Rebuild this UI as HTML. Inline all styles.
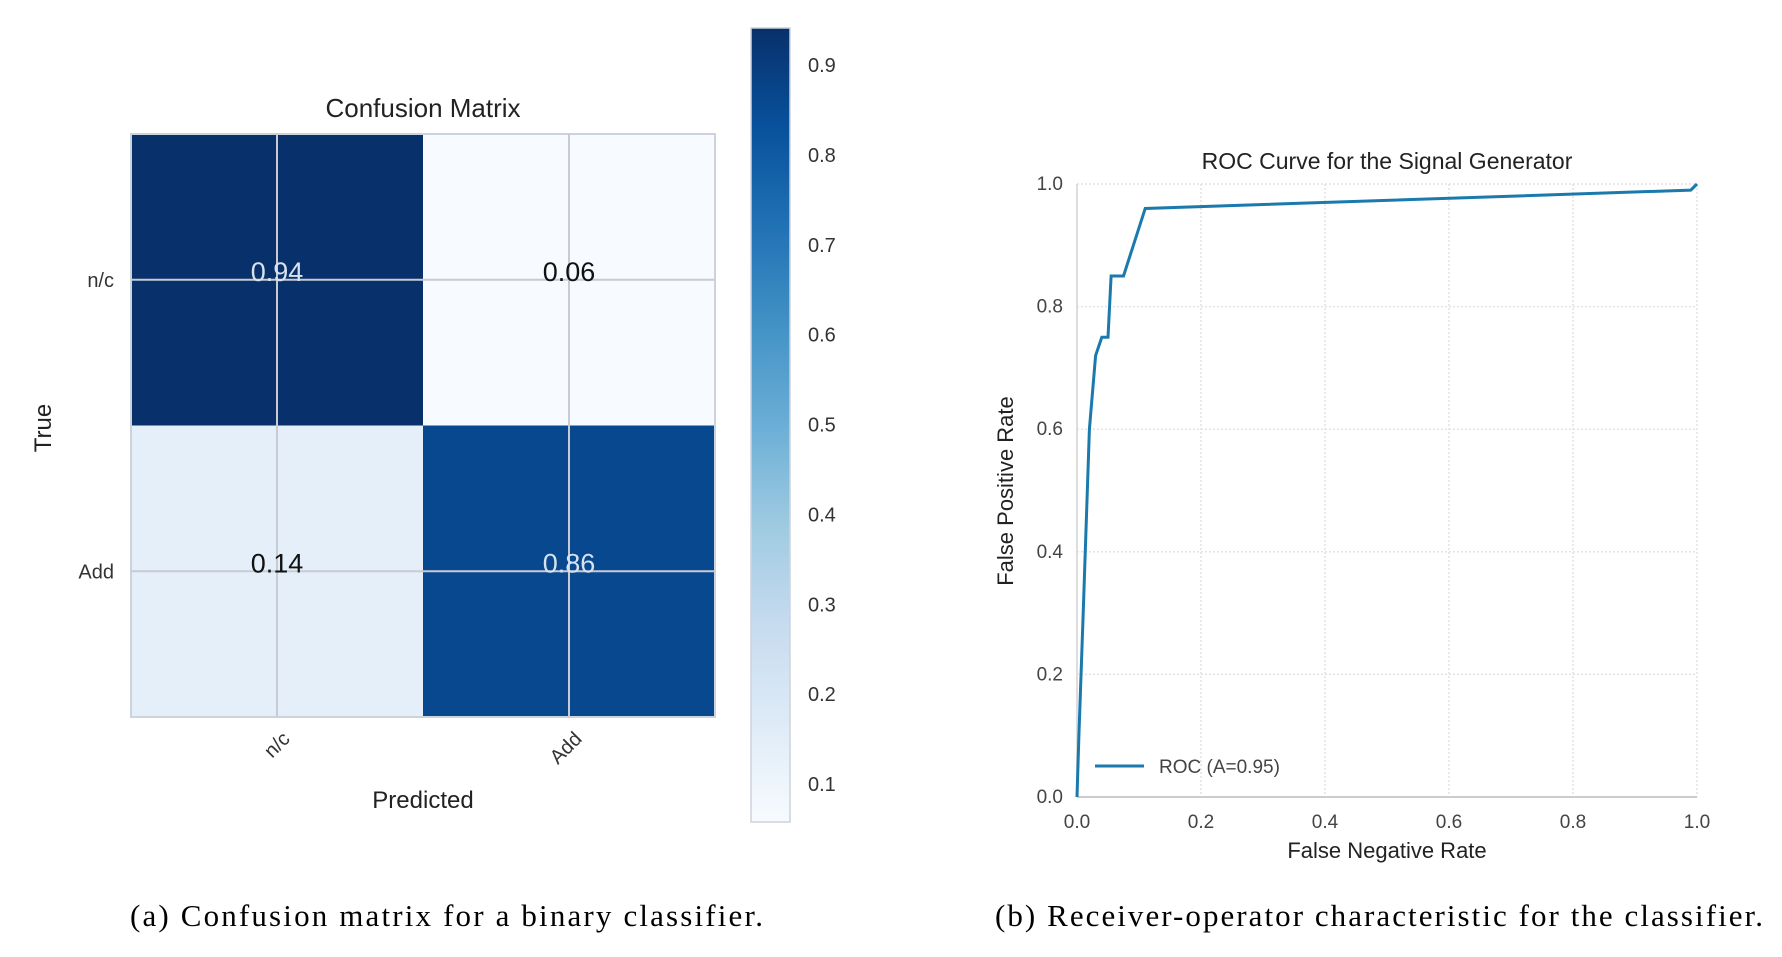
<!DOCTYPE html>
<html><head><meta charset="utf-8"><style>
html,body{margin:0;padding:0;background:#fff;width:1782px;height:957px;overflow:hidden}
svg text{font-family:"Liberation Sans",sans-serif;}
</style></head><body>
<svg width="1782" height="957">
<defs>
<linearGradient id="blues" x1="0" y1="1" x2="0" y2="0">
<stop offset="0" stop-color="#f7fbff"/><stop offset="0.125" stop-color="#deebf7"/>
<stop offset="0.25" stop-color="#c6dbef"/><stop offset="0.375" stop-color="#9ecae1"/>
<stop offset="0.5" stop-color="#6baed6"/><stop offset="0.625" stop-color="#4292c6"/>
<stop offset="0.75" stop-color="#2171b5"/><stop offset="0.875" stop-color="#08519c"/>
<stop offset="1" stop-color="#08306b"/></linearGradient>
</defs>
<g id="cm"></g>
<g id="roc"></g>
<text x="130" y="926" font-size="31" textLength="633" lengthAdjust="spacing" style="font-family:'Liberation Serif',serif">(a) Confusion matrix for a binary classifier.</text>
<text x="995" y="926" font-size="31" textLength="768" lengthAdjust="spacing" style="font-family:'Liberation Serif',serif">(b) Receiver-operator characteristic for the classifier.</text>
</svg>
<script>
const cmLabels=["n/c","Add"];
const cmValues=[[0.94,0.06],[0.14,0.86]];
const cbTicks=[0.1,0.2,0.3,0.4,0.5,0.6,0.7,0.8,0.9];
const rocX=[0,0.003,0.01,0.02,0.03,0.04,0.05,0.055,0.06,0.075,0.11,0.99,1];
const rocY=[0,0.1,0.3,0.6,0.72,0.75,0.75,0.85,0.85,0.85,0.96,0.99,1];
const rocTicks=[0,0.2,0.4,0.6,0.8,1.0];
const NS="http://www.w3.org/2000/svg";
function mk(p,t,a,txt){const e=document.createElementNS(NS,t);for(const k in a)e.setAttribute(k,a[k]);if(txt!==undefined)e.textContent=txt;p.appendChild(e);return e;}
const stops=[[0,[247,251,255]],[0.125,[222,235,247]],[0.25,[198,219,239]],[0.375,[158,202,225]],[0.5,[107,174,214]],[0.625,[66,146,198]],[0.75,[33,113,181]],[0.875,[8,81,156]],[1,[8,48,107]]];
const vmin=0.06,vmax=0.94;
function blues(v){let t=(v-vmin)/(vmax-vmin);t=Math.max(0,Math.min(1,t));for(let i=1;i<stops.length;i++){if(t<=stops[i][0]){const a=stops[i-1],b=stops[i];const f=(t-a[0])/(b[0]-a[0]);return 'rgb('+a[1].map((c,j)=>Math.round(c+(b[1][j]-c)*f)).join(',')+')';}}return 'rgb(8,48,107)';}
const cm=document.getElementById('cm');
const L=131,T=134,W=584,H=583,n=cmLabels.length,cw=W/n,ch=H/n;
const cx=i=>L+cw*(i+0.5), cy=i=>T+ch*(i+0.5);
for(let r=0;r<n;r++)for(let c=0;c<n;c++){
 const v=cmValues[r][c];
 const e=mk(cm,'rect',{x:L+c*cw,y:T+r*ch,width:cw,height:ch,fill:blues(v)});
 
 
}
mk(cm,'rect',{x:L,y:T,width:W,height:H,fill:'none',stroke:'#ccd3dc','stroke-width':2});
for(let i=0;i<n;i++){
 mk(cm,'line',{x1:cx(i),x2:cx(i),y1:T,y2:T+H,stroke:'#c8ccd2','stroke-width':2});
 mk(cm,'line',{x1:L,x2:L+W,y1:cy(i),y2:cy(i),stroke:'#c8ccd2','stroke-width':2});
}
for(let r=0;r<n;r++)for(let c=0;c<n;c++){
 const v=cmValues[r][c];
 const e=mk(cm,'text',{x:cx(c),y:cy(r)+1,'font-size':27,'text-anchor':'middle',fill:v>0.5?'#d8e2ee':'#111'},v.toFixed(2));
 
 
}
for(let i=0;i<n;i++){
 const e=mk(cm,'text',{x:114,y:cy(i)+7,'font-size':20,'text-anchor':'end',fill:'#333'},cmLabels[i]);
 
 
 const f=mk(cm,'text',{x:0,y:0,'font-size':20,'text-anchor':'end',fill:'#333',transform:'translate('+(cx(i)+14)+',740) rotate(-45)'},cmLabels[i]);
 
 
}
let t=mk(cm,'text',{x:423,y:117,'font-size':26,'text-anchor':'middle',fill:'#222'},'Confusion Matrix');

t=mk(cm,'text',{x:423,y:808,'font-size':24,'text-anchor':'middle',fill:'#222'},'Predicted');

t=mk(cm,'text',{x:0,y:0,'font-size':24,'text-anchor':'middle',fill:'#222',transform:'translate(51,428) rotate(-90)'},'True');

const CBX=751,CBT=28,CBB=822,CBW=39;
const cbY=v=>784-(v-0.1)/(0.8)*(784-65);
t=mk(cm,'rect',{x:CBX,y:CBT,width:CBW,height:CBB-CBT,fill:'url(#blues)',stroke:'#ccd3dc','stroke-width':1.5});

cbTicks.forEach(v=>{const e=mk(cm,'text',{x:808,y:cbY(v)+7,'font-size':20,fill:'#333'},v.toFixed(1));
 });
const roc=document.getElementById('roc');
const RL=1077,RR=1697,RT=184,RB=797;
const sx=v=>RL+v*(RR-RL), sy=v=>RB-v*(RB-RT);
rocTicks.forEach(v=>{
 if(v>0){mk(roc,'line',{x1:sx(v),x2:sx(v),y1:RT,y2:RB,stroke:'#e2e2e2','stroke-width':1.5,'stroke-dasharray':'2,2'});
 mk(roc,'line',{x1:RL,x2:RR,y1:sy(v),y2:sy(v),stroke:'#e2e2e2','stroke-width':1.5,'stroke-dasharray':'2,2'});}
 let e=mk(roc,'text',{x:sx(v),y:RB+31,'font-size':19,'text-anchor':'middle',fill:'#444'},v.toFixed(1));
 
 e=mk(roc,'text',{x:RL-14,y:sy(v)+6,'font-size':19,'text-anchor':'end',fill:'#444'},v.toFixed(1));
 
});
mk(roc,'line',{x1:RL,x2:RR,y1:RB,y2:RB,stroke:'#ccc','stroke-width':2});
mk(roc,'line',{x1:RL,x2:RL,y1:RT,y2:RB,stroke:'#ddd','stroke-width':2});
let d=rocX.map((x,i)=>(i?'L':'M')+sx(x).toFixed(1)+','+sy(rocY[i]).toFixed(1)).join(' ');
t=mk(roc,'path',{d:d,fill:'none',stroke:'#1a7aad','stroke-width':3});

t=mk(roc,'text',{x:1387,y:169,'font-size':23,'text-anchor':'middle',fill:'#222'},'ROC Curve for the Signal Generator');

t=mk(roc,'text',{x:1387,y:858,'font-size':22,'text-anchor':'middle',fill:'#222'},'False Negative Rate');

t=mk(roc,'text',{x:0,y:0,'font-size':22,'text-anchor':'middle',fill:'#222',transform:'translate(1013,491) rotate(-90)'},'False Positive Rate');

mk(roc,'line',{x1:1095,x2:1144,y1:766,y2:766,stroke:'#1a7aad','stroke-width':3});
t=mk(roc,'text',{x:1159,y:773,'font-size':19,fill:'#444'},'ROC (A=0.95)');

</script>
</body></html>
